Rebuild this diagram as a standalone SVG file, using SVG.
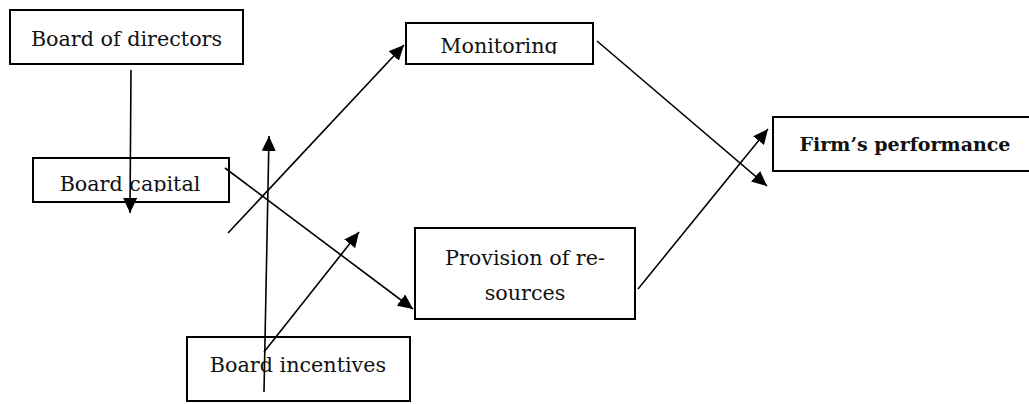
<svg xmlns="http://www.w3.org/2000/svg" width="1029" height="404" viewBox="0 0 1029 404">
  <style>
    .box { fill: #fff; stroke: #000; stroke-width: 2; }
    .txt { font-family: "DejaVu Serif", "Liberation Serif", serif; font-size: 20.7px; fill: #111; text-anchor: middle; }
    .bold { font-weight: bold; font-size: 19px; }
    .con { stroke: #000; stroke-width: 1.6; fill: none; marker-end: url(#arr); }
  </style>
  <defs>
    <marker id="arr" markerUnits="userSpaceOnUse" markerWidth="16" markerHeight="14" viewBox="0 0 16 14" refX="15" refY="7" orient="auto">
      <path d="M0,0 L15,7 L0,14 Z" fill="#000"/>
    </marker>
    <clipPath id="clipMon"><rect x="406" y="23" width="187" height="31"/></clipPath>
    <clipPath id="clipCap"><rect x="33" y="158" width="196" height="34"/></clipPath>
  </defs>
  <rect width="1029" height="404" fill="#fff"/>

  <g id="board-of-directors">
    <rect class="box" x="10" y="10" width="233" height="54" stroke-width="2.5"/>
    <text class="txt" x="126.5" y="46">Board of directors</text>
  </g>

  <g id="monitoring">
    <rect class="box" x="406" y="23" width="187" height="41"/>
    <text class="txt" x="499" y="53" clip-path="url(#clipMon)">Monitoring</text>
  </g>

  <g id="board-capital">
    <rect class="box" x="33" y="158" width="196" height="44"/>
    <text class="txt" x="130" y="191" clip-path="url(#clipCap)">Board capital</text>
  </g>

  <g id="provision-of-resources">
    <rect class="box" x="415" y="228" width="220" height="91"/>
    <text class="txt" x="525" y="265">Provision of re-</text>
    <text class="txt" x="525" y="300">sources</text>
  </g>

  <g id="board-incentives">
    <rect class="box" x="187" y="337" width="223" height="64"/>
    <text class="txt" x="298" y="372">Board incentives</text>
  </g>

  <g id="firms-performance">
    <rect class="box" x="773" y="117" width="258" height="54" stroke-width="1.6"/>
    <text class="txt bold" x="905" y="151">Firm’s performance</text>
  </g>

  <g id="connectors">
    <path class="con" d="M131,70 L130,213"/>
    <path class="con" d="M264,392 L269,136"/>
    <path class="con" d="M225,168 L413,309"/>
    <path class="con" d="M228,233 L404,45"/>
    <path class="con" d="M264,352 L359,232"/>
    <path class="con" d="M597,41 L767,186"/>
    <path class="con" d="M638,289 L768,129"/>
  </g>
</svg>
